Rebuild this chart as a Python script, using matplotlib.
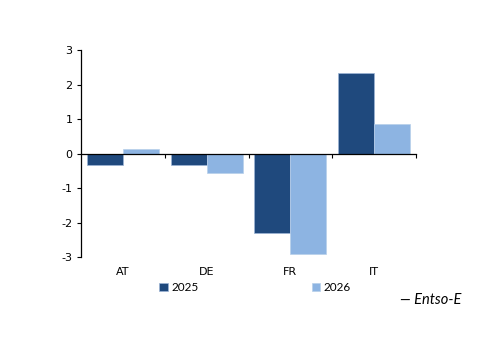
import numpy as np
import matplotlib.pyplot as plt
from matplotlib.transforms import blended_transform_factory

# data
countries = ["AT", "DE", "FR", "IT"]
v2025 = [-0.32, -0.33, -2.3, 2.33]
v2026 = [0.12, -0.55, -2.92, 0.85]
yticks = [-3, -2, -1, 0, 1, 2, 3]

dark = "#1F497D"
light = "#8DB4E2"

fig = plt.figure(figsize=(5, 3.53), dpi=100)
ax = fig.add_axes([0.162, 0.272, 0.67, 0.586])

x = np.arange(len(countries))
w = 0.43
b1 = ax.bar(x - w / 2, v2025, w, color=dark, edgecolor="#9DB5D6", linewidth=0.5, label="2025")
b2 = ax.bar(x + w / 2, v2026, w, color=light, edgecolor="#B8CFEA", linewidth=0.5, label="2026")

ax.set_xlim(-0.5, 3.5)
ax.set_ylim(-3, 3)
ax.set_yticks(yticks)
ax.set_yticklabels([str(t) for t in yticks], fontsize=8)
ax.tick_params(axis="y", direction="out", length=3, width=0.8, pad=3)

for s in ["top", "right"]:
    ax.spines[s].set_visible(False)
ax.spines["left"].set_linewidth(0.9)
ax.spines["bottom"].set_position(("data", 0))
ax.spines["bottom"].set_linewidth(0.9)
ax.set_xticks([])
ax.set_xticks(x + 0.5, minor=True)
ax.tick_params(axis="x", which="minor", direction="out", length=3, width=0.8, labelbottom=False)

tr = blended_transform_factory(ax.transData, ax.transAxes)
for i, c in enumerate(countries):
    ax.text(i, -0.05, c, transform=tr, ha="center", va="top", fontsize=8)

leg = fig.legend(handles=[b1, b2], loc="center", bbox_to_anchor=(0.51, 0.185), ncol=2,
                 frameon=False, handlelength=0.7, handleheight=0.7,
                 handletextpad=0.3, columnspacing=9.6, prop={"family": "Lato", "size": 8.5})

fig.text(0.8, 0.14, "\u2014 Entso-E", fontsize=10.5, style="italic", family="Lato")

fig.savefig("out.png", dpi=100)
